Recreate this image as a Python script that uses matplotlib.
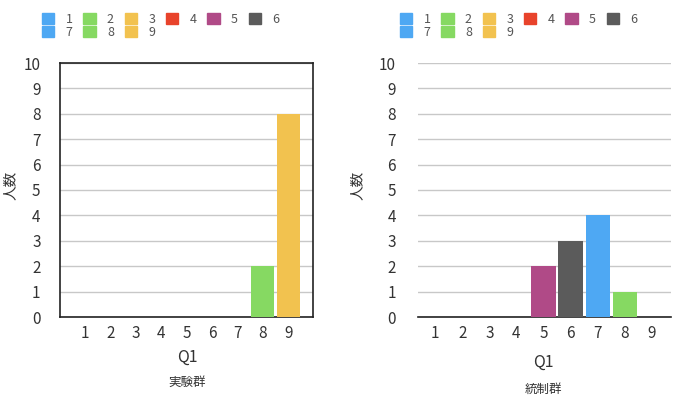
import matplotlib
matplotlib.use("Agg")
import matplotlib.pyplot as plt
from matplotlib.patches import Patch

plt.rcParams['font.family'] = ['Noto Sans CJK JP', 'DejaVu Sans']

categories = [1, 2, 3, 4, 5, 6, 7, 8, 9]
exp_counts = [0, 0, 0, 0, 0, 0, 0, 2, 8]
ctrl_counts = [0, 0, 0, 0, 2, 3, 4, 1, 0]
colors = ['#4ea8f3', '#86d962', '#f2c24f', '#e8432b', '#b04a87', '#5b5b5b',
          '#4ea8f3', '#86d962', '#f2c24f']
y_ticks = list(range(0, 11))
xlabel = 'Q1'
ylabel = '人数'
group_titles = ['実験群', '統制群']

W, H = 675, 396
fig = plt.figure(figsize=(W / 100, H / 100), dpi=100)

def px(x0, y0, x1, y1):
    return [x0 / W, 1 - y1 / H, (x1 - x0) / W, (y1 - y0) / H]

ax1 = fig.add_axes(px(60, 63, 313, 317))
ax2 = fig.add_axes(px(418, 63, 671, 317))

txtc = '#333333'
for ax, counts, xlim, boxed in [(ax1, exp_counts, (0.02, 9.97), True),
                                (ax2, ctrl_counts, (0.37, 9.7), False)]:
    ax.bar(categories, counts, width=0.9, color=colors, zorder=3)
    ax.set_ylim(0, 10)
    ax.set_xlim(*xlim)
    ax.set_yticks(y_ticks)
    ax.set_xticks(categories)
    ax.tick_params(length=0, labelsize=11, colors=txtc, pad=6)
    ax.yaxis.grid(True, color='#c8c8c8', linewidth=1, zorder=0)
    ax.set_axisbelow(True)
    if boxed:
        for s in ax.spines.values():
            s.set_color('#222222')
            s.set_linewidth(1.2)
    else:
        for s in ['top', 'right', 'left']:
            ax.spines[s].set_visible(False)
        ax.spines['bottom'].set_color('#222222')
        ax.spines['bottom'].set_linewidth(1.2)

ax1.tick_params(axis='y', pad=14)
ax2.tick_params(axis='y', pad=16)

fig.text(11 / W, 1 - 185 / H, ylabel, rotation=90, ha='center', va='center',
         fontsize=10.5, color=txtc)
fig.text(358 / W, 1 - 185 / H, ylabel, rotation=90, ha='center', va='center',
         fontsize=10.5, color=txtc)

fig.text(187 / W, 1 - 357 / H, xlabel, ha='center', va='center', fontsize=11.5, color=txtc)
fig.text(187 / W, 1 - 382 / H, group_titles[0], ha='center', va='center', fontsize=9, color=txtc)
fig.text(543 / W, 1 - 362 / H, xlabel, ha='center', va='center', fontsize=11.5, color=txtc)
fig.text(543 / W, 1 - 389 / H, group_titles[1], ha='center', va='center', fontsize=9, color=txtc)

order = [0, 6, 1, 7, 2, 8, 3, 4, 5]
handles = [Patch(color=colors[i]) for i in order]
labels = [str(categories[i]) for i in order]
for x0 in (33, 391):
    fig.legend(handles, labels, ncol=6, loc='upper left',
               bbox_to_anchor=(x0 / W, 1 - 4 / H), frameon=False,
               fontsize=9, handlelength=1.0, handleheight=1.0,
               handletextpad=0.9, columnspacing=0.85, labelspacing=0.0,
               labelcolor='#555555', borderpad=0.2)

fig.savefig('out.png', dpi=100)
